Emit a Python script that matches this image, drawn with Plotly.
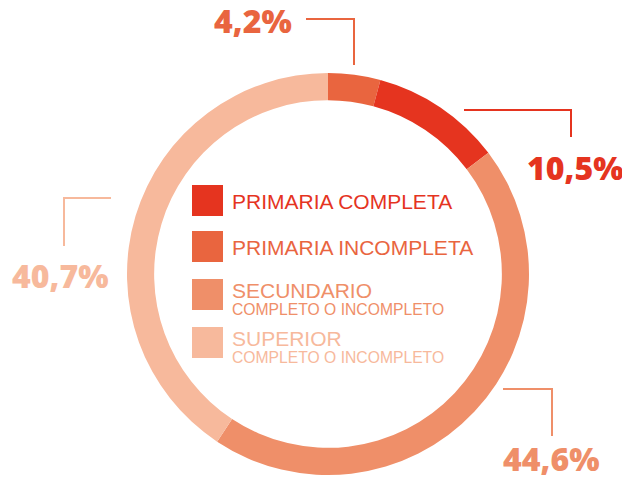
import plotly.graph_objects as go

W, H = 622, 479

# Data
categories = ["PRIMARIA INCOMPLETA", "PRIMARIA COMPLETA", "SECUNDARIO", "SUPERIOR"]
values = [4.2, 10.5, 44.6, 40.7]
value_labels = ["4,2%", "10,5%", "44,6%", "40,7%"]
colors = ["#E9653F", "#E5341F", "#EF8F69", "#F7B99C"]

legend_order = ["PRIMARIA COMPLETA", "PRIMARIA INCOMPLETA", "SECUNDARIO", "SUPERIOR"]
legend_sub = ["", "", "COMPLETO O INCOMPLETO", "COMPLETO O INCOMPLETO"]

cx, cy, R = 328, 274, 201

def px(x):
    return x / W

def py(y):
    return 1 - y / H

fig = go.Figure(go.Pie(
    labels=categories,
    values=values,
    sort=False,
    direction="clockwise",
    rotation=0,
    hole=0.865,
    marker=dict(colors=colors, line=dict(width=0)),
    textinfo="none",
    hoverinfo="label+value",
    showlegend=False,
    domain=dict(x=[px(cx - R), px(cx + R)], y=[py(cy + R), py(cy - R)]),
))

font_legend = "Liberation Sans"
font_label = "Open Sans"
color_of = dict(zip(categories, colors))
label_of = dict(zip(categories, value_labels))

shapes = []
annotations = []

# Legend in the hole
sq_tops = [185, 231, 279, 327]
for i, cat in enumerate(legend_order):
    c = color_of[cat]
    t = sq_tops[i]
    shapes.append(dict(type="rect", xref="paper", yref="paper",
                       x0=px(192), x1=px(223), y0=py(t + 31), y1=py(t),
                       fillcolor=c, line=dict(width=0)))
    if legend_sub[i]:
        annotations.append(dict(x=px(230), y=py(t + 11), xref="paper", yref="paper",
                                text=cat, showarrow=False, xanchor="left", yanchor="middle",
                                font=dict(family=font_legend, size=21, color=c)))
        annotations.append(dict(x=px(230), y=py(t + 30), xref="paper", yref="paper",
                                text=legend_sub[i], showarrow=False, xanchor="left", yanchor="middle",
                                font=dict(family=font_legend, size=15.7, color=c)))
    else:
        annotations.append(dict(x=px(230), y=py(t + 16), xref="paper", yref="paper",
                                text=cat, showarrow=False, xanchor="left", yanchor="middle",
                                font=dict(family=font_legend, size=21, color=c)))

# Callout labels: (category, text x, text center y, connector path points)
callouts = [
    ("PRIMARIA INCOMPLETA", 212, 21, [(306, 19), (354, 19), (354, 65)]),
    ("PRIMARIA COMPLETA", 525, 167, [(464, 110), (571, 110), (571, 137)]),
    ("SUPERIOR", 10, 275, [(111, 198), (64, 198), (64, 246)]),
    ("SECUNDARIO", 501, 458, [(503, 389), (552, 389), (552, 436)]),
]
for cat, tx, ty, pts in callouts:
    c = color_of[cat]
    path = "M " + " L ".join(f"{px(x)},{py(y)}" for x, y in pts)
    shapes.append(dict(type="path", xref="paper", yref="paper", path=path,
                       line=dict(color=c, width=2)))
    annotations.append(dict(x=px(tx), y=py(ty), xref="paper", yref="paper",
                            text=label_of[cat], showarrow=False,
                            xanchor="left", yanchor="middle",
                            font=dict(family=font_label, size=32, color=c, weight=800)))

fig.update_layout(
    width=W, height=H,
    margin=dict(l=0, r=0, t=0, b=0),
    paper_bgcolor="white", plot_bgcolor="white",
    shapes=shapes, annotations=annotations,
)

fig.write_html(
    "out.html",
    config={"displayModeBar": False},
    post_script="document.body.style.margin='0';document.body.style.overflow='hidden';",
)
